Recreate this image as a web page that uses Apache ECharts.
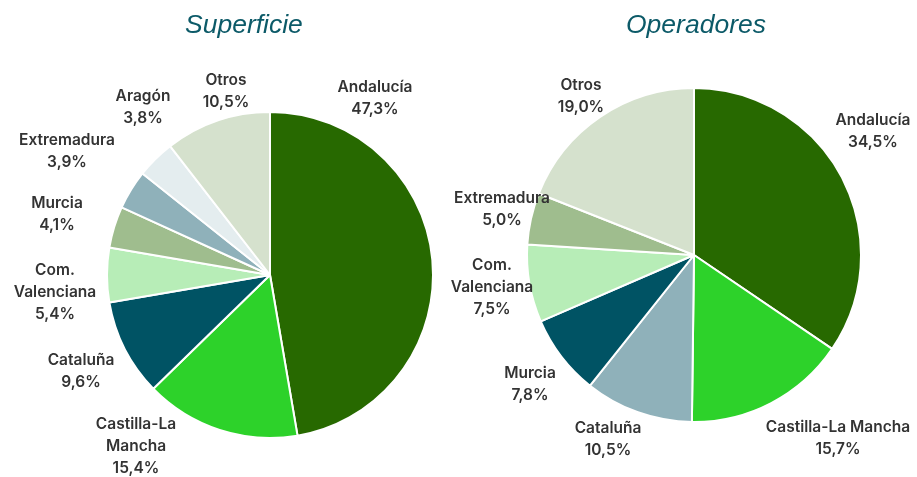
<!DOCTYPE html>
<html><head><meta charset="utf-8">
<script src="https://cdn.jsdelivr.net/npm/echarts@6/dist/echarts.min.js"></script>
<style>html,body{margin:0;padding:0;background:#fff}#c{width:917px;height:477px}</style>
</head><body><div id="c"></div>
<script>
// Superficie
const supNames = ['Andalucía','Castilla-La\nMancha','Cataluña','Com.\nValenciana','Murcia','Extremadura','Aragón','Otros'];
const supValues = [47.3, 15.4, 9.6, 5.4, 4.1, 3.9, 3.8, 10.5];
// Operadores
const opNames = ['Andalucía','Castilla-La Mancha','Cataluña','Murcia','Com.\nValenciana','Extremadura','Otros'];
const opValues = [34.5, 15.7, 10.5, 7.8, 7.5, 5.0, 19.0];

const titles = ['Superficie', 'Operadores'];

// styling / layout (not data)
const supColors = ['#276900','#2dd22a','#005364','#b7edb7','#9fbd8e','#8fb1ba','#e4edef','#d5e1cd'];
const opColors = ['#276900','#2dd22a','#8fb1ba','#005364','#b7edb7','#9fbd8e','#d5e1cd'];
const supLabelPos = [[375,98],[136,446],[81,371],[55,292],[57,214],[67,151],[143,107],[226,91]];
const opLabelPos = [[873,131],[838,438],[608,439],[530,384],[492,287],[502,209],[581,96]];

function fmt(v){ return v.toFixed(1).replace('.', ',') + '%'; }

function mk(names, values, colors){
  return names.map((n,i)=>({name:n, value:values[i], itemStyle:{color:colors[i]}}));
}

function series(names, values, colors, center, radius, pos){
  return {
    type:'pie', center:center, radius:radius, startAngle:90, clockwise:true,
    avoidLabelOverlap:false,
    data: mk(names, values, colors),
    itemStyle:{borderColor:'#fff', borderWidth:2},
    label:{show:true, position:'outside', color:'#333333', fontFamily:'Inter', fontWeight:600,
      fontSize:15.5, lineHeight:22, align:'center',
      formatter:p=>p.name + '\n' + fmt(p.value)},
    labelLine:{show:false},
    labelLayout: p => ({x: pos[p.dataIndex][0], y: pos[p.dataIndex][1], align:'center', verticalAlign:'middle'}),
    emphasis:{disabled:true},
    animation:false
  };
}

const chart = echarts.init(document.getElementById('c'), null, {renderer:'canvas'});
const tStyle = {fontFamily:'Liberation Sans', fontStyle:'italic', fontWeight:'normal', fontSize:26.5, color:'#0c5a68'};
chart.setOption({
  animation:false,
  title:[
    {text:titles[0], left:180, top:7, textStyle:tStyle},
    {text:titles[1], left:621, top:7, textStyle:tStyle}
  ],
  series:[
    series(supNames, supValues, supColors, [270,275], 163, supLabelPos),
    series(opNames, opValues, opColors, [694,255], 167, opLabelPos)
  ]
});
</script>
</body></html>
